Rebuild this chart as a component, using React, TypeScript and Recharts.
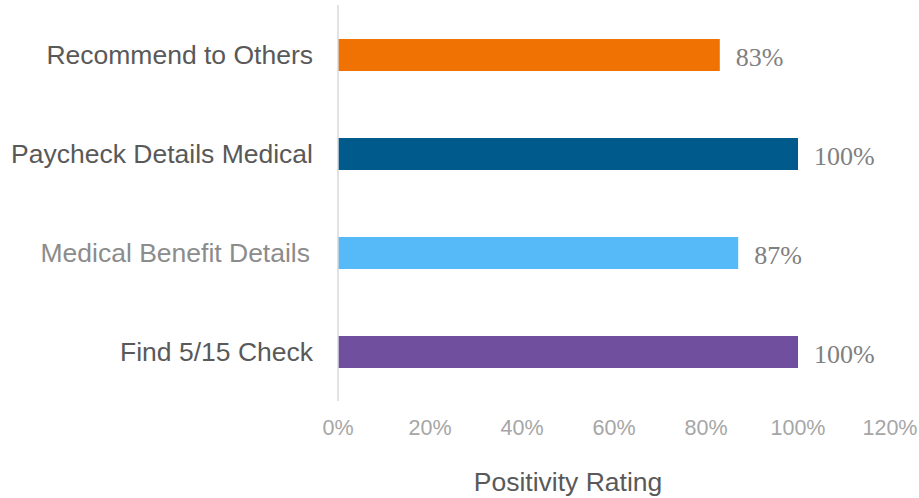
import { BarChart, Bar, XAxis, YAxis, Cell, LabelList } from "recharts";

const categories = ["Recommend to Others", "Paycheck Details Medical", "Medical Benefit Details", "Find 5/15 Check"];
const ratings = [83, 100, 87, 100];
const barColors = ["#ef7203", "#005b8c", "#56b9f8", "#6f4f9e"];
const labelColors = ["#595959", "#595959", "#8c8c8c", "#595959"];
const xTicks = [0, 20, 40, 60, 80, 100, 120];

const data = categories.map((name, i) => ({ name, value: ratings[i] }));

const SANS = "Liberation Sans, Arial, sans-serif";

const CategoryTick = (props: any) => {
  const { x, y, payload, index } = props;
  const dx = payload.value === "Medical Benefit Details" ? -3 : 0;
  return (
    <text
      x={x + dx}
      y={y}
      dy={9}
      textAnchor="end"
      fontFamily={SANS}
      fontSize={26.5}
      fill={labelColors[index] || "#595959"}
    >
      {payload.value}
    </text>
  );
};

export default function App() {
  return (
    <div style={{ position: "absolute", left: 0, top: 0, background: "#fff" }}>
      <BarChart
        width={919}
        height={498}
        data={data}
        layout="vertical"
        margin={{ top: 5, right: 29, bottom: 10, left: 0 }}
        barSize={32}
      >
        <XAxis
          type="number"
          domain={[0, 120]}
          ticks={xTicks}
          tickFormatter={(v) => `${v}%`}
          axisLine={false}
          tickLine={false}
          height={87}
          tick={{ fill: "#a6a6a6", fontSize: 21.5, fontFamily: SANS, dy: 11 }}
          label={{
            value: "Positivity Rating",
            position: "insideBottom",
            offset: -3,
            dx: -46,
            fill: "#595959",
            fontSize: 26.5,
            fontFamily: SANS,
          }}
        />
        <YAxis
          type="category"
          dataKey="name"
          width={338}
          axisLine={{ stroke: "#d9d9d9", strokeWidth: 1.5 }}
          tickLine={false}
          tickMargin={19}
          tick={<CategoryTick />}
        />
        <Bar dataKey="value" isAnimationActive={false}>
          {data.map((_, i) => (
            <Cell key={i} fill={barColors[i]} />
          ))}
          <LabelList
            dataKey="value"
            position="right"
            offset={16}
            formatter={(v: any) => `${v}%`}
            fill="#808080"
            fontSize={26}
            fontFamily="Liberation Serif, Times New Roman, serif"
            dy={2}
          />
        </Bar>
      </BarChart>
    </div>
  );
}
